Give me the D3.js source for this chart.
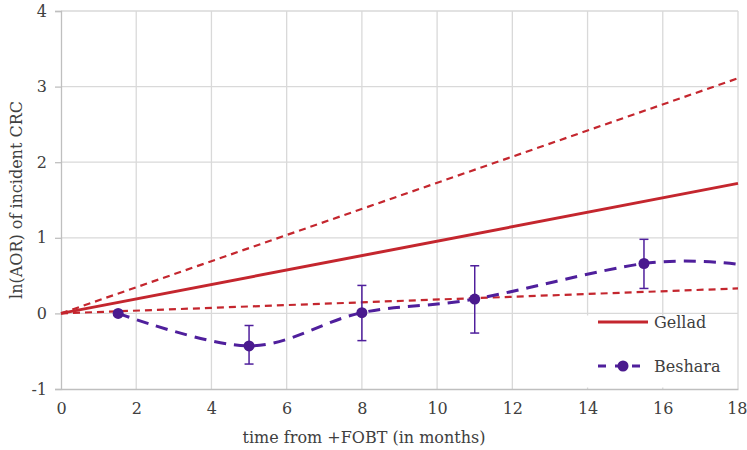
<!DOCTYPE html>
<html><head><meta charset="utf-8">
<script src="https://cdn.jsdelivr.net/npm/d3@7"></script>
<style>body{margin:0;background:#fff}</style>
</head><body>
<svg id="chart" width="747" height="450"></svg>
<script>
const xTicks = [0,2,4,6,8,10,12,14,16,18];
const yTicks = [-1,0,1,2,3,4];
// Gellad: linear estimate with upper / lower bounds (start, end)
const gelladX = [0, 18];
const gelladMid = [0, 1.72];
const gelladUpper = [0, 3.11];
const gelladLower = [0, 0.33];
// Beshara: points with error bars
const besharaX = [1.52, 5.0, 8.0, 11.0, 15.5, 18];
const besharaY = [0.0, -0.43, 0.01, 0.19, 0.66, 0.65];
const besharaLo = [null, -0.67, -0.36, -0.26, 0.33, null];
const besharaHi = [null, -0.16, 0.37, 0.63, 0.98, null];
const besharaMarker = [true, true, true, true, true, false];
const seriesNames = ["Gellad", "Beshara"];

const red = "#c4262e", purple = "#4f1f9c";
const font = "'DejaVu Serif', serif";
const fs = 16;
const svg = d3.select("#chart");
const m = {l:61, r:9, t:11, b:61};
const W = 747, H = 450;
const x = d3.scaleLinear().domain([0,18]).range([m.l, W - m.r]);
const y = d3.scaleLinear().domain([-1,4]).range([H - m.b, m.t]);

// gridlines
svg.append("g").selectAll("line").data(xTicks.filter(d=>d>0)).join("line")
  .attr("x1", d=>x(d)).attr("x2", d=>x(d)).attr("y1", y(4)).attr("y2", y(-1))
  .attr("stroke", "#d9d9d9").attr("stroke-width", 1.3);
svg.append("g").selectAll("line").data(yTicks.filter(d=>d>-1)).join("line")
  .attr("x1", x(0)).attr("x2", x(18)).attr("y1", d=>y(d)).attr("y2", d=>y(d))
  .attr("stroke", "#d9d9d9").attr("stroke-width", 1.3);

// axes
const yAxis = svg.append("g").attr("transform", `translate(${x(0)},0)`)
  .call(d3.axisLeft(y).tickValues(yTicks).tickSize(6).tickPadding(8).tickFormat(d => String(d)));
const xAxis = svg.append("g").attr("transform", `translate(0,${y(-1)})`)
  .call(d3.axisBottom(x).tickValues(xTicks).tickSize(0).tickPadding(14).tickFormat(d => String(d)));
[yAxis, xAxis].forEach(a => {
  a.select(".domain").attr("stroke", "#bfbfbf").attr("stroke-width", 1.3);
  a.selectAll(".tick line").attr("stroke", "#bfbfbf").attr("stroke-width", 1.3);
  a.selectAll("text").attr("font-family", font).attr("font-size", fs).attr("fill", "#404040");
});
xAxis.selectAll(".tick text").attr("dy", "0.71em");
xAxis.selectAll(".tick text").filter(d => d === 18).attr("text-anchor", "end").attr("x", 9);

// axis titles
svg.append("text").attr("x", 364).attr("y", 443)
  .attr("text-anchor", "middle").attr("font-family", font).attr("font-size", fs).attr("fill", "#404040")
  .text("time from +FOBT (in months)");
svg.append("text").attr("transform", `translate(22,${(y(4)+y(-1))/2}) rotate(-90)`)
  .attr("text-anchor", "middle").attr("font-family", font).attr("font-size", fs).attr("fill", "#404040")
  .text("ln(AOR) of incident CRC");

// Gellad lines
const lin = d3.line().x(d=>x(d[0])).y(d=>y(d[1]));
[[gelladUpper, "7,5", 2.2], [gelladLower, "7,5", 2.2], [gelladMid, null, 3]].forEach(([vals, dash, w]) => {
  svg.append("path").attr("d", lin(gelladX.map((d,i)=>[d, vals[i]])))
    .attr("fill", "none").attr("stroke", red).attr("stroke-width", w)
    .attr("stroke-dasharray", dash);
});

// Beshara smooth dashed line
const bPts = besharaX.map((d,i)=>[d, besharaY[i]]);
svg.append("path").attr("d", d3.line().x(d=>x(d[0])).y(d=>y(d[1])).curve(d3.curveCatmullRom.alpha(0))(bPts))
  .attr("fill", "none").attr("stroke", purple).attr("stroke-width", 3).attr("stroke-dasharray", "12,8");

// error bars
const eb = besharaX.map((d,i)=>({x:d, lo:besharaLo[i], hi:besharaHi[i]})).filter(d=>d.lo!==null);
const ebG = svg.append("g").attr("stroke", purple).attr("stroke-width", 1.5);
ebG.selectAll(".v").data(eb).join("line")
  .attr("x1", d=>x(d.x)).attr("x2", d=>x(d.x)).attr("y1", d=>y(d.lo)).attr("y2", d=>y(d.hi));
ebG.selectAll(".t").data(eb.flatMap(d=>[[d.x,d.lo],[d.x,d.hi]])).join("line")
  .attr("x1", d=>x(d[0])-4.5).attr("x2", d=>x(d[0])+4.5).attr("y1", d=>y(d[1])).attr("y2", d=>y(d[1]));

// markers
svg.append("g").selectAll("circle").data(bPts.filter((d,i)=>besharaMarker[i])).join("circle")
  .attr("cx", d=>x(d[0])).attr("cy", d=>y(d[1])).attr("r", 5.5).attr("fill", "#4a1a8e");

// legend
const lg = svg.append("g");
lg.append("rect").attr("x", 583).attr("y", 315.5).attr("width", 154).attr("height", 72).attr("fill", "#fff");
lg.append("line").attr("x1", 598).attr("x2", 648).attr("y1", 322).attr("y2", 322)
  .attr("stroke", red).attr("stroke-width", 3);
lg.append("line").attr("x1", 598).attr("x2", 648).attr("y1", 366).attr("y2", 366)
  .attr("stroke", purple).attr("stroke-width", 3).attr("stroke-dasharray", "8,9");
lg.append("circle").attr("cx", 623).attr("cy", 366).attr("r", 5.5).attr("fill", "#4a1a8e");
lg.selectAll("text").data(seriesNames).join("text")
  .attr("x", 654).attr("y", (d,i)=>322 + i*44).attr("dy", "0.35em")
  .attr("font-family", font).attr("font-size", fs).attr("fill", "#404040").text(d=>d);
</script>
</body></html>
